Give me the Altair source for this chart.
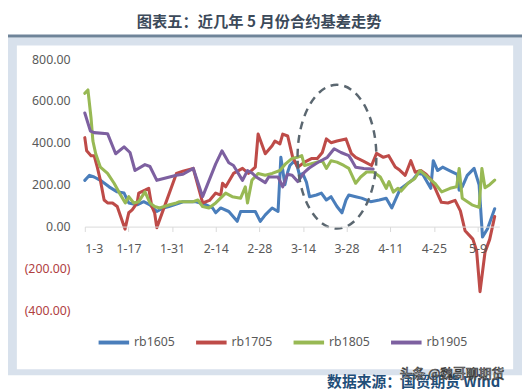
import altair as alt
import pandas as pd

# ---- data (x = calendar days after Jan 3) ----
series_names = ["rb1605", "rb1705", "rb1805", "rb1905"]
series_colors = ["#4a7ebb", "#be4b48", "#98b954", "#7d60a0"]

rb1605_days = [0, 1.5, 3, 5, 7.8, 10.4, 12.6, 14.1, 16.8, 18.9, 20.9, 23.1, 25.2, 27, 29.4, 31.5, 35.7, 38.9, 41, 42,
               43.6, 46.2, 48.9, 50, 54.7, 56.3, 57.9, 60.1, 62, 62.9, 64.2, 65.1, 65.8, 67.3, 68.3, 68.9, 69.9, 71.1,
               72.1, 74.3, 75.9, 77.5, 79, 80.9, 82.5, 83.8, 84.7, 86.9, 88.8, 91.7, 94.5, 96.7, 98.5, 101.2, 103.7,
               105.3, 106.9, 108.4, 111, 111.8, 113.2, 114.8, 117, 119.5, 120.1, 121.1, 122.7, 124.9, 126.5, 127.6,
               129.2, 131.5]
rb1605_vals = [221, 245, 237, 221, 190, 166, 160, 113, 104, 119, 104, 72, 89, 96, 108, 119, 119, 104, 89, 66,
               89, 72, 25, 72, 72, 25, 56, 89, 72, 331, 200, 261, 292, 315, 280, 245, 254, 213,
               143, 151, 160, 127, 143, 96, 66, 127, 151, 143, 136, 119, 127, 135, 89, 180, 207,
               225, 254, 250, 183, 315, 268, 284, 268, 250, 174, 190, 245, 278, 200, -50,
               -10, 85]

rb1705_days = [0, 0.6, 2, 3, 4, 5, 6.2, 7.3, 8.9, 10.4, 12.9, 14.1, 15.2, 16.8, 17.3, 19.3, 20.5, 21.5, 22.4, 23.1,
               29.4, 31.5, 34.8, 37.8, 40, 42, 43.6, 44.2, 45.2, 47.7, 50.6, 52.5, 54.7, 55.6, 57.9, 60.1, 61, 62.6,
               63.5, 65.1, 66.7, 68.3, 70.5, 72.7, 74.6, 76.2, 77.5, 79, 80.9, 83.8, 85.5, 86.9, 89.5, 92, 93.6,
               95.8, 97.5, 99.6, 101, 102.8, 104.6, 106, 107.8, 109.5, 111.3, 114.4, 116.5, 118.8, 120.5, 122,
               124.5, 125.7, 126.8, 128.4, 129.9, 131.5]
rb1705_vals = [425, 362, 339, 339, 284, 221, 127, 113, 113, 96, -12, 66, 80, 113, 160, 174, 183, 96, 66, -5,
               254, 265, 278, 113, 125, 160, 150, 207, 190, 254, 278, 254, 284, 442, 348, 386, 409, 395,
               442, 433, 331, 284, 308, 325, 325, 354, 419, 401, 409, 419, 350, 331, 312, 292, 350,
               331, 339, 285, 270, 245, 315, 260, 268, 250, 220, 116, 113, 125, 75, -20,
               -60, -115, -311, -122, -61, 48]

rb1805_days = [0, 1, 2, 2.6, 3.5, 5, 7.3, 9.4, 10.9, 13, 14.1, 15.7, 17.3, 19.3, 20.9, 22.4, 24, 27.2, 29.4, 30.4,
               34.8, 36.3, 37.8, 39.8, 42, 45.2, 47.3, 50, 51.5, 52.2, 53.6, 55.6, 57.9, 60.1, 62.6, 64.5, 66.4,
               68.2, 69.6, 70.5, 72.7, 76.2, 77.5, 79, 80.9, 83.1, 84.7, 86.9, 88.5, 90.4, 92.6, 94.8, 96.7, 97.6,
               99, 100.5, 101.5, 103.7, 105.9, 107.5, 109.4, 112.3, 114.5, 117.2, 119.3, 120.1, 121.1, 124.2,
               126.5, 127.4, 128.4, 129.9, 131.5]
rb1805_vals = [637, 653, 519, 409, 348, 284, 254, 207, 166, 113, 143, 113, 119, 166, 113, 96, 89, 104, 113, 119,
               119, 127, 96, 89, 113, 160, 143, 136, 190, 113, 221, 254, 245, 254, 268, 301, 325,
               331, 339, 292, 301, 315, 278, 315, 308, 292, 278, 207, 237, 261, 261, 237, 183, 215,
               165, 183, 170, 207, 230, 268, 245, 207, 166, 183, 190, 278, 135, 104,
               92, 278, 186, 200, 222]

rb1905_days = [0, 1.8, 3, 7.3, 9.9, 12.6, 14.5, 16.1, 19.3, 20.9, 23.1, 29.4, 31.5, 34.8, 37.8, 42, 44, 46.2, 47.7,
               50.6, 52.2, 53.7, 55, 57.9, 59, 62, 63.5, 65, 66.5, 68.3, 70.5, 72, 74.6, 77.8, 80, 82.2, 84.7,
               85.7, 86.9, 89.5, 92.5]
rb1905_vals = [543, 456, 449, 444, 348, 381, 354, 268, 296, 287, 221, 245, 250, 278, 143, 300, 362, 305, 292,
               221, 268, 255, 237, 210, 237, 237, 190, 250, 245, 215, 260, 280, 305, 331, 372, 354, 339,
               315, 284, 278, 275]

tick_days = [0, 14, 28, 42, 56, 70, 84, 98, 112, 126]
tick_labels = ["1-3", "1-17", "1-31", "2-14", "2-28", "3-14", "3-28", "4-11", "4-25", "5-9"]
y_ticks = [-400, -200, 0, 200, 400, 600, 800]

ellipse_day = [80.9]
ellipse_val = [334]

title_text = "图表五：近几年 5 月份合约基差走势"
source_text = "数据来源：国贸期货 Wind"
watermark_text = "头条 @魏哥聊期货"

# ---- build table ----
rows = []
for name, ds, vs in [("rb1605", rb1605_days, rb1605_vals), ("rb1705", rb1705_days, rb1705_vals),
                     ("rb1805", rb1805_days, rb1805_vals), ("rb1905", rb1905_days, rb1905_vals)]:
    for d, v in zip(ds, vs):
        rows.append({"day": d, "value": v, "series": name})
df = pd.DataFrame(rows)

W, H = 421, 255
label_js = "[" + ",".join("'" + t + "'" for t in tick_labels) + "]"

one = pd.DataFrame({"k": [0]})

bg = alt.Chart(one).mark_rect(color="#d8e1ec").encode(
    x=alt.value(-90), x2=alt.value(450), y=alt.value(-22), y2=alt.value(321))
panel = alt.Chart(one).mark_rect(color="#ffffff").encode(
    x=alt.value(-69), x2=alt.value(435), y=alt.value(-14), y2=alt.value(315))
band_line = alt.Chart(one).mark_rect(color="#6f8499").encode(
    x=alt.value(-90), x2=alt.value(450), y=alt.value(-25), y2=alt.value(-22))
title = alt.Chart(one).mark_text(
    font="Noto Sans CJK SC", fontSize=15.5, fontWeight="bold", color="#3c4a5a",
    align="center", baseline="middle").encode(
    x=alt.value(177), y=alt.value(-38), text=alt.value(title_text))

lines = alt.Chart(df).mark_line(strokeWidth=3.1, strokeJoin="round", strokeCap="round").encode(
    x=alt.X("day:Q", scale=alt.Scale(domain=[0, 133], nice=False, zero=False),
            axis=alt.Axis(values=tick_days, labelExpr=label_js + "[round(datum.value/14)]",
                          offset=-85, title=None, grid=False, domainColor="#d9d9d9",
                          tickColor="#d9d9d9", tickSize=5, labelPadding=11, zindex=1,
                          labelFont="Noto Sans", labelFontSize=12.5, labelColor="#595959")),
    y=alt.Y("value:Q", scale=alt.Scale(domain=[-400, 800], nice=False),
            axis=alt.Axis(values=y_ticks, title=None, grid=False, domain=False, ticks=False,
                          labelPadding=15, labelFont="Noto Sans", labelFontSize=12.5, zindex=1,
                          labelExpr="datum.value < 0 ? '(' + format(-datum.value, '.2f') + ')' : format(datum.value, '.2f')",
                          labelColor=alt.condition("datum.value < 0", alt.value("#b0403f"), alt.value("#595959")))),
    color=alt.Color("series:N", scale=alt.Scale(domain=series_names, range=series_colors),
                    legend=alt.Legend(orient="none", legendX=12, legendY=270, direction="horizontal",
                                      title=None, symbolType="stroke", symbolSize=961, zindex=1,
                                      symbolStrokeWidth=4, labelFont="Noto Sans", labelFontSize=12.5,
                                      labelColor="#595959", columnPadding=13, labelOffset=3, padding=0)),
    order=alt.Order("day:Q"),
)

ell_path = "M -0.548 0 A 0.548 1 0 1 1 0.548 0 A 0.548 1 0 1 1 -0.548 0 Z"
ellipse = alt.Chart(pd.DataFrame({"day": ellipse_day, "value": ellipse_val})).mark_point(
    shape=ell_path, size=21316, filled=False, stroke="#5b6770", color="#5b6770",
    strokeWidth=2.5, strokeDash=[8, 6], opacity=1).encode(x="day:Q", y="value:Q")

source = alt.Chart(one).mark_text(
    font="Noto Sans CJK SC", fontSize=15, fontWeight="bold", color="#1f4e79",
    align="right", baseline="middle").encode(
    x=alt.value(422), y=alt.value(328), text=alt.value(source_text))
watermark = alt.Chart(one).mark_text(
    font="Noto Sans CJK SC", fontSize=13, color="#fafafa", stroke="#3a3a3a", strokeWidth=0.7,
    align="right", baseline="middle").encode(
    x=alt.value(426), y=alt.value(320), text=alt.value(watermark_text))

chart = alt.layer(bg, panel, band_line, title, lines, ellipse, source, watermark).properties(
    width=W, height=H,
    autosize=alt.AutoSizeParams(type="none"),
    padding={"left": 78, "top": 49, "right": 23, "bottom": 80},
    background="white",
).configure_view(stroke=None)

chart.save("out.html", embed_options={"renderer": "svg", "actions": False})
